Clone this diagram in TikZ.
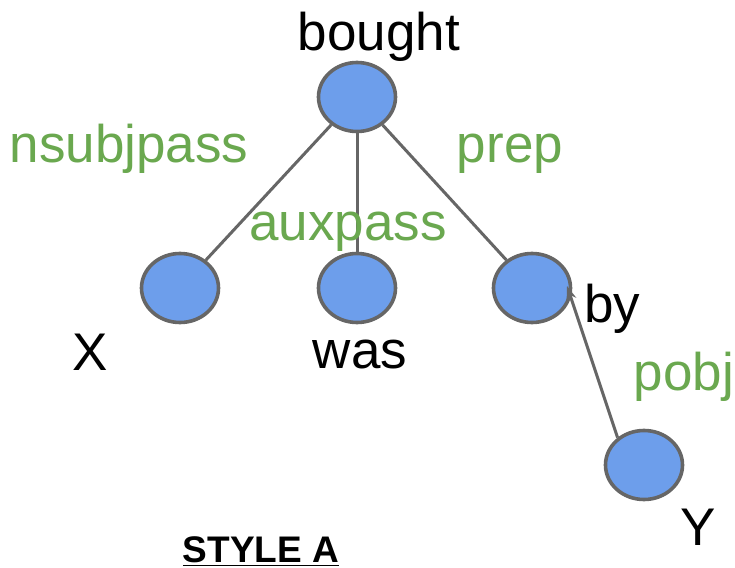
\documentclass[tikz,border=0pt]{standalone}
\usepackage{fontspec}
\setmainfont{Liberation Sans}
\usetikzlibrary{arrows.meta,shapes.geometric}
\definecolor{nodeblue}{HTML}{6D9EEB}
\definecolor{edgegray}{HTML}{666666}
\definecolor{labgreen}{HTML}{6AA84F}
\begin{document}
\begin{tikzpicture}[x=0.5pt,y=-0.5pt,
  tok/.style={ellipse, draw=edgegray, fill=nodeblue, line width=1.8pt, minimum width=38.5pt, minimum height=34.5pt, inner sep=0pt},
  edge/.style={draw=edgegray, line width=1.5pt},
  word/.style={anchor=base, inner sep=0pt, font=\fontsize{26.5}{30}\selectfont, text=black},
  rel/.style={anchor=base, inner sep=0pt, font=\fontsize{26.5}{30}\selectfont, text=labgreen}]
\useasboundingbox (0,0) rectangle (735,568);
\node[tok] (bought) at (357,97) {};
\node[tok] (x) at (180,288) {};
\node[tok] (was) at (357,288) {};
\node[tok] (prep) at (532,288) {};
\node[tok] (y) at (644,465) {};
\coordinate (ptip) at (567,286);
\draw[edge] (bought) -- (x);
\draw[edge] (bought) -- (was);
\draw[edge] (bought) -- (prep);
\draw[edge, -{Stealth[length=7pt,width=5pt]}] (y.134) -- (ptip);
\node[word] (tbought) at (379,50) {bought};
\node[rel] (tnsubj) at (129,162) {nsubjpass};
\node[rel] (taux) at (348,240) {auxpass};
\node[rel] (tprep) at (510,162) {prep};
\node[word] (tx) at (90,370) {X};
\node[word] (twas) at (360,368) {was};
\node[word] (tby) at (612,322) {by};
\node[rel] (tpobj) at (684,390) {pobj};
\node[word] (ty) at (698,545) {Y};
\node[anchor=base, inner sep=0pt, font=\fontsize{18.5}{22}\selectfont\bfseries] (style) at (261,562) {\underline{STYLE A}};
\end{tikzpicture}
\end{document}
